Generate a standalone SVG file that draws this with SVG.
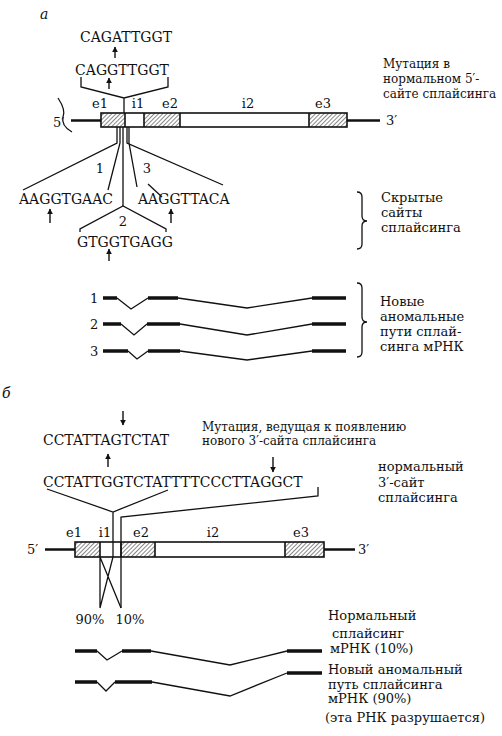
<svg xmlns="http://www.w3.org/2000/svg" width="502" height="736" viewBox="0 0 502 736">
<style>
text{font-family:"DejaVu Serif","Liberation Serif",serif;fill:#111}
.seq{font-size:14px}
.lab{font-size:13px}
.ru{font-size:13px}
.rs{font-size:12px}
.it{font-style:italic;font-size:14px}
.thin{fill:none;stroke:#111;stroke-width:1.3}
.thick{fill:none;stroke:#111;stroke-width:3.5}
.lead{fill:none;stroke:#111;stroke-width:2.5}
.arr{fill:none;stroke:#111;stroke-width:1.4;marker-end:url(#ah)}
.box{fill:none;stroke:#111;stroke-width:1.6}
.hat{fill:url(#hatch)}
</style>
<defs>
<pattern id="hatch" width="3" height="3" patternUnits="userSpaceOnUse" patternTransform="rotate(45)">
<line x1="0" y1="0" x2="0" y2="3" stroke="#111" stroke-width="1"/>
</pattern>
<marker id="ah" viewBox="0 0 10 10" refX="9" refY="5" markerWidth="6" markerHeight="6" orient="auto" markerUnits="userSpaceOnUse">
<path d="M0,0 L10,5 L0,10 z" fill="#111"/>
</marker>
</defs>
<rect width="502" height="736" fill="#fff"/>

<!-- Section a -->
<text class="it" x="40" y="19">а</text>

<g id="gene-a">
<line class="lead" x1="71" y1="120.5" x2="101" y2="120.5"/>
<line class="lead" x1="347" y1="120.5" x2="380" y2="120.5"/>
<rect x="101" y="113" width="246" height="14" fill="#fff"/>
<rect class="hat" x="101" y="113" width="24" height="14"/>
<rect class="hat" x="144" y="113" width="36" height="14"/>
<rect class="hat" x="309" y="113" width="38" height="14"/>
<rect class="box" x="101" y="113" width="246" height="14"/>
<path class="box" d="M125,113V127M144,113V127M180,113V127M309,113V127"/>
<path class="thin" d="M58,98 Q66,110 63,117 Q61,126 72,132"/>
<text class="lab" x="53" y="127">5′</text>
<text class="lab" x="386" y="125">3′</text>
<text class="lab" x="100" y="108" text-anchor="middle">e1</text>
<text class="lab" x="138" y="108" text-anchor="middle">i1</text>
<text class="lab" x="170" y="108" text-anchor="middle">e2</text>
<text class="lab" x="248" y="108" text-anchor="middle">i2</text>
<text class="lab" x="323" y="108" text-anchor="middle">e3</text>
</g>

<g id="mut5-a">
<text class="seq" x="126" y="42" text-anchor="middle">CAGATTGGT</text>
<text class="seq" x="122" y="75" text-anchor="middle">CAGGTTGGT</text>
</g>

<g id="note-a1">
<text class="rs" x="383" y="68">Мутация в</text>
<text class="rs" x="383" y="83">нормальном 5′-</text>
<text class="rs" x="383" y="98">сайте сплайсинга</text>
</g>

<g id="cryptic-a">
<text class="seq" x="19" y="204">AAGGTGAAC</text>
<text class="seq" x="138" y="204">AAGGTTACA</text>
<text class="seq" x="77" y="247">GTGGTGAGG</text>
<text class="lab" x="100" y="173" text-anchor="middle">1</text>
<text class="lab" x="147" y="173" text-anchor="middle">3</text>
<text class="lab" x="123" y="226" text-anchor="middle">2</text>
</g>

<g id="note-a2">
<path class="thin" d="M357,192 Q362,192 362,197 V216 Q362,221 367,221 Q362,221 362,226 V244 Q362,249 357,249"/>
<text class="ru" x="381" y="202">Скрытые</text>
<text class="ru" x="381" y="217">сайты</text>
<text class="ru" x="381" y="232">сплайсинга</text>
</g>

<g id="mrna-a">
<text class="lab" x="90" y="303">1</text>
<text class="lab" x="90" y="329">2</text>
<text class="lab" x="90" y="356">3</text>
<path class="thick" d="M103,298H117M148,298H178M312,298H346"/>
<path class="thin" d="M117,298L131,309L148,298M178,298L247,308L312,298"/>
<path class="thick" d="M103,324H121M147,324H180M312,324H346"/>
<path class="thin" d="M121,324L134,335L147,324M180,324L247,335L312,324"/>
<path class="thick" d="M103,351H128M148,351H180M312,351H346"/>
<path class="thin" d="M128,351L137,359L148,351M180,351L247,360L312,351"/>
</g>

<g id="note-a3">
<path class="thin" d="M357,283 Q362,283 362,288 V317 Q362,322 367,322 Q362,322 362,327 V352 Q362,357 357,357"/>
<text class="ru" x="380" y="306">Новые</text>
<text class="ru" x="380" y="321">аномальные</text>
<text class="ru" x="380" y="336">пути сплай-</text>
<text class="ru" x="380" y="351">синга мРНК</text>
</g>

<!-- Section b -->
<text class="it" x="2" y="398">б</text>

<g id="gene-b">
<line class="lead" x1="45" y1="549.5" x2="75" y2="549.5"/>
<line class="lead" x1="324" y1="549.5" x2="355" y2="549.5"/>
<rect x="75" y="542" width="249" height="15" fill="#fff"/>
<rect class="hat" x="75" y="542" width="25" height="15"/>
<rect class="hat" x="121" y="542" width="34" height="15"/>
<rect class="hat" x="285" y="542" width="39" height="15"/>
<rect class="box" x="75" y="542" width="249" height="15"/>
<path class="box" d="M100,542V557M121,542V557M155,542V557M285,542V557"/>
<text class="lab" x="27" y="554">5′</text>
<text class="lab" x="358" y="554">3′</text>
<text class="lab" x="74" y="537" text-anchor="middle">e1</text>
<text class="lab" x="105" y="537" text-anchor="middle">i1</text>
<text class="lab" x="141" y="537" text-anchor="middle">e2</text>
<text class="lab" x="213" y="537" text-anchor="middle">i2</text>
<text class="lab" x="301" y="537" text-anchor="middle">e3</text>
<text class="lab" x="90" y="624" text-anchor="middle">90%</text>
<text class="lab" x="130" y="624" text-anchor="middle">10%</text>
</g>

<g id="seq-b">
<text class="seq" x="106" y="445" text-anchor="middle">CCTATTAGTCTAT</text>
<text class="seq" x="43" y="487">CCTATTGGTCTATTTTCCCTTAGGCT</text>
</g>

<g id="note-b1">
<text class="rs" x="202" y="431">Мутация, ведущая к появлению</text>
<text class="rs" x="202" y="445">нового 3′-сайта сплайсинга</text>
</g>

<g id="note-b2">
<text class="ru" x="378" y="471">нормальный</text>
<text class="ru" x="378" y="487">3′-сайт</text>
<text class="ru" x="378" y="502">сплайсинга</text>
</g>

<g id="mrna-b">
<path class="thick" d="M75,651H97M122,651H151M287,651H322"/>
<path class="thin" d="M97,651L107,660L122,651M151,651L230,665L287,651"/>
<path class="thick" d="M75,682H97M115,682H152M287,673H322"/>
<path class="thin" d="M97,682L106,691L115,682M152,682L230,696L287,673"/>
</g>

<g id="note-b3">
<text class="ru" x="328" y="620">Нормальный</text>
<text class="ru" x="332" y="638">сплайсинг</text>
<text class="ru" x="330" y="653">мРНК (10%)</text>
<text class="ru" x="328" y="674">Новый аномальный</text>
<text class="ru" x="328" y="689">путь сплайсинга</text>
<text class="ru" x="328" y="703">мРНК (90%)</text>
<text class="ru" x="325" y="722">(эта РНК разрушается)</text>
</g>

<g id="connectors">
<!-- section a -->
<line class="arr" x1="115" y1="58" x2="115" y2="47"/>
<line class="arr" x1="109" y1="89" x2="109" y2="78"/>
<path class="thin" d="M81,77V87L124,98L168,87V77M124,98V113"/>
<path class="thin" d="M117,127V143L23,190M120,127V143L108,190M123,127V206M127,127V143L223,185M129,127V143L137,187"/>
<path class="thin" d="M148,184L162,197"/>
<path class="thin" d="M80,232V229L123,206L166,229V232"/>
<line class="arr" x1="50" y1="223" x2="50" y2="209"/>
<line class="arr" x1="171" y1="223" x2="171" y2="209"/>
<line class="arr" x1="109" y1="261" x2="109" y2="249"/>
<!-- section b -->
<line class="arr" x1="123" y1="411" x2="123" y2="425"/>
<line class="arr" x1="108" y1="467" x2="108" y2="454"/>
<line class="arr" x1="273" y1="457" x2="273" y2="472"/>
<path class="thin" d="M47,489L113,512L168,490M113,512V557L100,608M100,557V608M100,557L121,608"/>
<path class="thin" d="M318,487V496L121,517V608"/>
</g>
</svg>
